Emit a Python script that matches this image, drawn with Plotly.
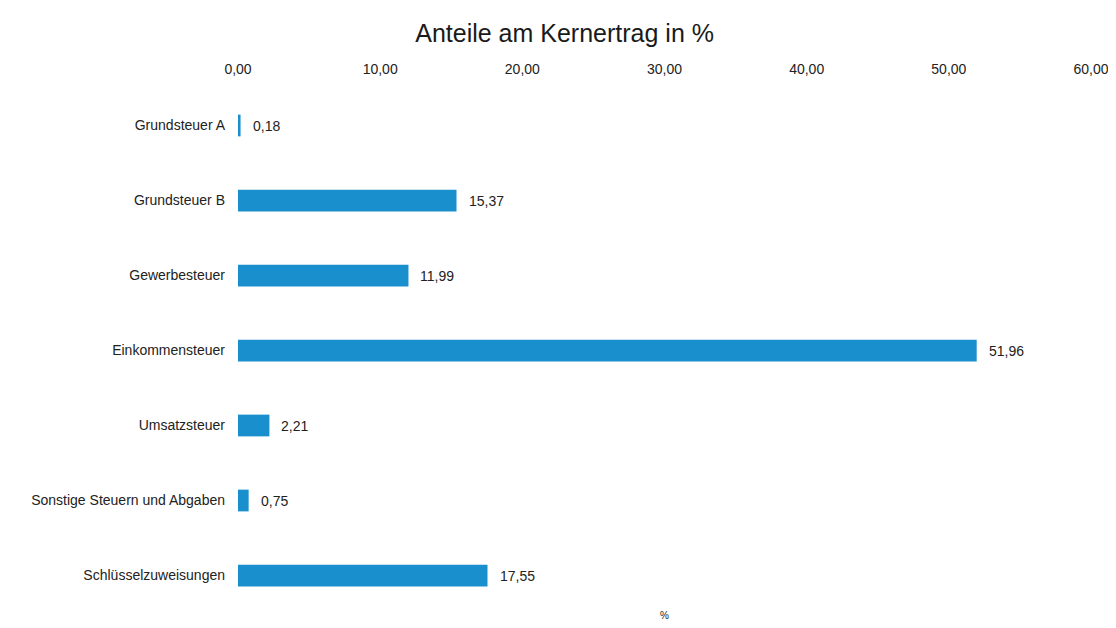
import plotly.graph_objects as go

categories = ["Grundsteuer A", "Grundsteuer B", "Gewerbesteuer", "Einkommensteuer",
              "Umsatzsteuer", "Sonstige Steuern und Abgaben", "Schlüsselzuweisungen"]
values = [0.18, 15.37, 11.99, 51.96, 2.21, 0.75, 17.55]
tick_vals = [0, 10, 20, 30, 40, 50, 60]
tick_text = ["0,00", "10,00", "20,00", "30,00", "40,00", "50,00", "60,00"]
labels = [f"{v:.2f}".replace(".", ",") for v in values]

fig = go.Figure()
fig.add_trace(go.Bar(
    x=values, y=categories, orientation="h",
    marker=dict(color="#1a8fcd", line=dict(width=0)),
    width=0.29,
    hoverinfo="skip",
))
for v, c, t in zip(values, categories, labels):
    fig.add_annotation(x=v, y=c, text=t, xref="x", yref="y", showarrow=False,
                       xanchor="left", xshift=10, font=dict(size=14, color="#222222"))

fig.add_annotation(x=0.5, y=-0.004, xref="paper", yref="paper", text="%", showarrow=False,
                   yanchor="middle", font=dict(size=10, color="#222222"))

fig.update_layout(
    width=1100, height=612,
    margin=dict(l=230, r=17, t=80, b=7),
    paper_bgcolor="white", plot_bgcolor="white",
    font=dict(family="Liberation Sans, Arial, sans-serif", size=14, color="#222222"),
    title=dict(text="Anteile am Kernertrag in %", x=0.506, xanchor="center", y=0.959, yanchor="middle",
               xref="container", yref="container", font=dict(size=25, color="#1a1a1a")),
    showlegend=False,
)
fig.update_xaxes(range=[0, 60], side="top", tickvals=tick_vals, ticktext=tick_text,
                 showgrid=False, zeroline=False, showline=False, ticks="", automargin=False,
                 ticklabelstandoff=10, ticklabeloverflow="allow", tickfont=dict(size=14))
fig.update_yaxes(autorange="reversed", showgrid=False, zeroline=False, showline=False,
                 ticks="", automargin=False, ticklabelstandoff=12, tickfont=dict(size=14))

fig.write_html("out.html")
